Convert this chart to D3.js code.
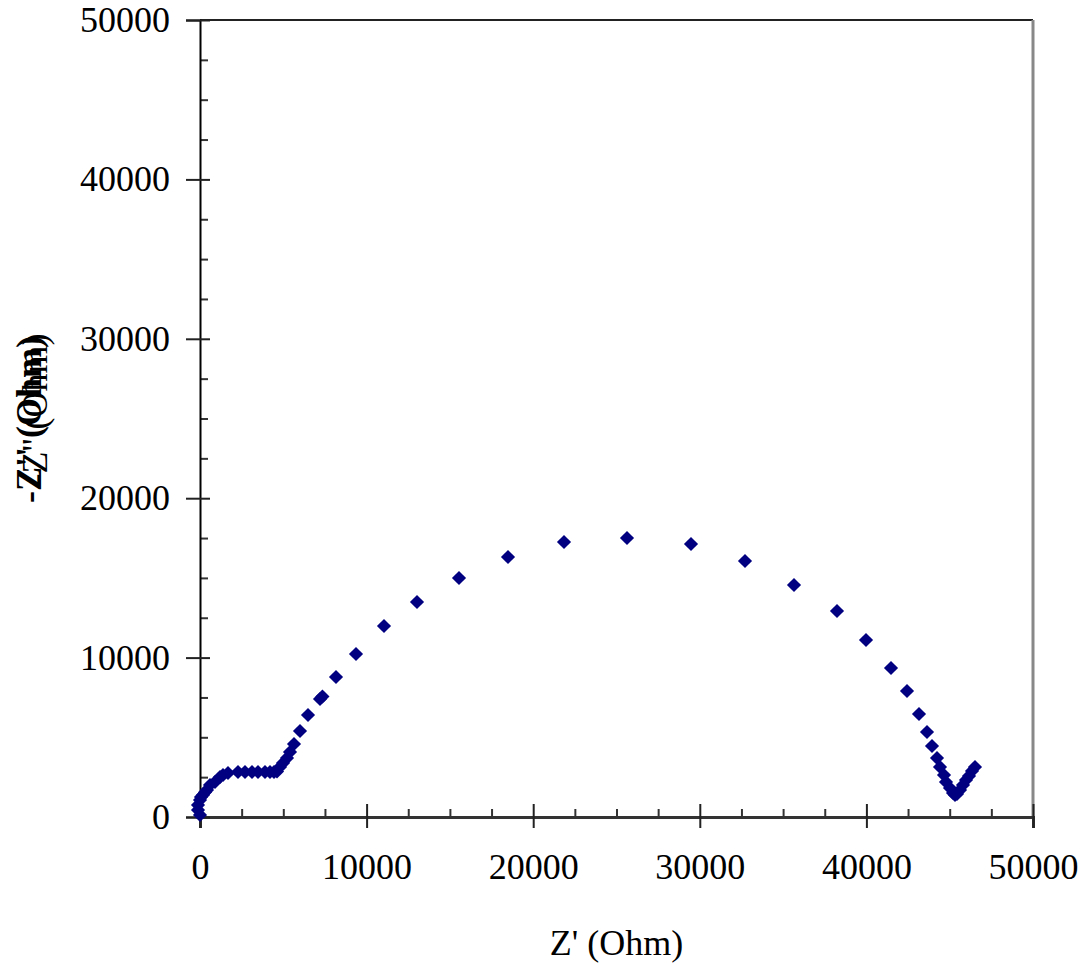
<!DOCTYPE html>
<html>
<head>
<meta charset="utf-8">
<script src="https://cdn.jsdelivr.net/npm/d3@7"></script>
<style>
  body { margin: 0; background: #fff; }
  text { font-family: "Liberation Serif", "Times New Roman", serif; fill: #000; }
</style>
</head>
<body>
<svg width="1090" height="968"></svg>
<script>
// Nyquist data (Z', -Z'') in Ohm
const zReal = [
  0, -120, -120, 0, 60, 180, 300, 420, 600, 900, 1200, 1381, 1681,
  2281, 2701, 3121, 3481, 3902, 4202, 4442, 4622, 4802, 4982, 5222,
  5402, 5642, 6002, 6483, 7203, 7350, 8163, 9364, 11044, 13025, 15546, 18487,
  21849, 25630, 29472, 32713, 35654, 38235, 39976, 41477, 42437, 43157,
  43637, 43938, 44238, 44418, 44658, 44778, 45018, 45198, 45318, 45438,
  45618, 45798, 45978, 46158, 46338, 46518
];
const zImag = [
  125, 439, 753, 1066, 1250, 1380, 1550, 1694, 2008, 2196, 2509, 2635, 2760,
  2823, 2823, 2823, 2823, 2823, 2823, 2823, 2860, 3137, 3388, 3701,
  4078, 4580, 5395, 6399, 7400, 7560, 8783, 10226, 11982, 13488, 14994, 16311,
  17252, 17503, 17127, 16060, 14555, 12923, 11104, 9347, 7905, 6462,
  5332, 4454, 3701, 3137, 2635, 2196, 1819, 1506, 1380, 1443,
  1694, 2008, 2321, 2572, 2886, 3137
];
const data = zReal.map((x, i) => ({ x, y: zImag[i] }));

const majorTicks = [0, 10000, 20000, 30000, 40000, 50000];
const minorTicks = d3.range(0, 50001, 2500).filter(v => v % 10000 !== 0);
const xLabel = "Z' (Ohm)";
const yLabel = "-Z'' (Ohm)";

const margin = { left: 200, right: 57, top: 20, bottom: 151 };
const svg = d3.select('svg');
const width = +svg.attr('width');
const height = +svg.attr('height');
const innerWidth = width - margin.left - margin.right;
const innerHeight = height - margin.top - margin.bottom;

const g = svg.append('g')
    .attr('transform', `translate(${margin.left},${margin.top})`);

const xScale = d3.scaleLinear().domain([0, 50000]).range([0, innerWidth]);
const yScale = d3.scaleLinear().domain([0, 50000]).range([innerHeight, 0]);

// frame: top and right
g.append('line').attr('x1', 0).attr('x2', innerWidth).attr('y1', 0).attr('y2', 0)
    .attr('stroke', '#222').attr('stroke-width', 2);
g.append('line').attr('x1', innerWidth).attr('x2', innerWidth).attr('y1', 0).attr('y2', innerHeight)
    .attr('stroke', '#888').attr('stroke-width', 3);

// minor ticks
const xMinorG = g.append('g').attr('transform', `translate(0,${innerHeight})`)
    .call(d3.axisBottom(xScale).tickValues(minorTicks).tickSize(-8).tickFormat(''));
const yMinorG = g.append('g')
    .call(d3.axisLeft(yScale).tickValues(minorTicks).tickSize(-8).tickFormat(''));
[xMinorG, yMinorG].forEach(a => {
  a.select('.domain').remove();
  a.selectAll('line').attr('stroke', '#333').attr('stroke-width', 2);
});

// major axes
const xAxisG = g.append('g').attr('transform', `translate(0,${innerHeight})`)
    .call(d3.axisBottom(xScale).tickValues(majorTicks).tickSize(11).tickFormat(d3.format('d')));
const yAxisG = g.append('g')
    .call(d3.axisLeft(yScale).tickValues(majorTicks).tickSize(14).tickFormat(d3.format('d')));

xAxisG.select('.domain').attr('stroke', '#333').attr('stroke-width', 3);
yAxisG.select('.domain').attr('stroke', '#000').attr('stroke-width', 2);
xAxisG.selectAll('.tick line').attr('y1', -13).attr('y2', 11).attr('stroke', '#222').attr('stroke-width', 2);
yAxisG.selectAll('.tick line').attr('x1', 10).attr('x2', -14).attr('stroke', '#222').attr('stroke-width', 2);
xAxisG.selectAll('.tick text')
    .attr('y', 50).attr('dy', '0.32em')
    .style('font-size', '36px').style('font-family', '"Liberation Serif", serif');
yAxisG.selectAll('.tick text')
    .attr('x', -30).attr('dy', '0.32em')
    .style('font-size', '36px').style('font-family', '"Liberation Serif", serif');

// axis labels
g.append('text')
    .attr('x', innerWidth / 2)
    .attr('y', innerHeight + 138)
    .attr('text-anchor', 'middle')
    .style('font-size', '36px')
    .text(xLabel);

[[-3, 4, 'bold'], [3, -6, 'normal']].forEach(([dx, dy, w]) => {
  g.append('text')
      .attr('transform', `translate(${-156 + dx},${innerHeight / 2 - 3 + dy}) rotate(-90)`)
      .attr('text-anchor', 'middle')
      .style('font-size', '36px')
      .style('font-weight', w)
      .text(yLabel);
});

// markers
const diamond = d3.symbol().type(d3.symbolSquare).size(100);
g.selectAll('path.pt').data(data)
  .enter().append('path')
    .attr('class', 'pt')
    .attr('d', diamond)
    .attr('transform', d => `translate(${xScale(d.x)},${yScale(d.y)}) rotate(45)`)
    .attr('fill', '#000080');
</script>
</body>
</html>
